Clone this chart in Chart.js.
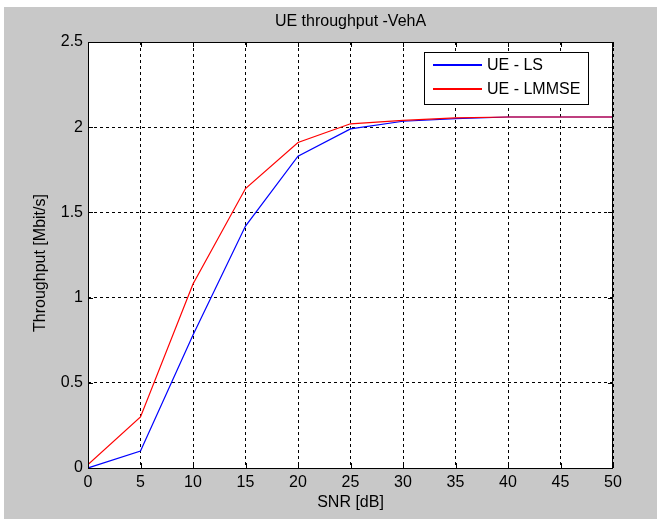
<!DOCTYPE html>
<html>
<head>
<meta charset="utf-8">
<script src="https://cdn.jsdelivr.net/npm/chart.js@4"></script>
<style>
  html, body { margin: 0; padding: 0; background: #fff; }
  #wrap { width: 662px; height: 519px; }
</style>
</head>
<body>
<div id="wrap"><canvas id="chart" width="662" height="519"></canvas></div>
<script>
// ===== DATA =====
const snr = [0, 5, 10, 15, 20, 25, 30, 35, 40, 45, 50];
const ueLS = [0, 0.10, 0.78, 1.42, 1.83, 1.99, 2.035, 2.05, 2.06, 2.06, 2.06];
const ueLMMSE = [0.02, 0.30, 1.08, 1.64, 1.91, 2.02, 2.04, 2.055, 2.06, 2.06, 2.06];
const seriesLabels = ["UE - LS", "UE - LMMSE"];
const seriesColors = ["#0000ff", "#ff0000"];
const titleText = "UE throughput -VehA";
const xTitle = "SNR [dB]";
const yTitle = "Throughput [Mbit/s]";

const FONT = "'Liberation Sans', Arial, sans-serif";

// background, inside ticks, legend and titles
const matlabLook = {
    id: "matlabLook",
    beforeDraw(chart) {
        const c = chart.ctx;
        const a = chart.chartArea;
        c.save();
        c.fillStyle = "#fff";
        c.fillRect(0, 0, chart.width, chart.height);
        c.fillStyle = "#c8c8c8";
        c.fillRect(4, 7, 653, 512);
        c.fillStyle = "#fff";
        c.fillRect(a.left, a.top, a.right - a.left, a.bottom - a.top);
        c.restore();
    },
    afterDraw(chart) {
        const c = chart.ctx;
        const a = chart.chartArea;
        const xs = chart.scales.x, ys = chart.scales.y;
        c.save();
        c.setLineDash([]);
        // frame
        c.strokeStyle = "#000";
        c.lineWidth = 1;
        c.strokeRect(a.left + 0.5, a.top + 0.5, a.right - a.left - 1, a.bottom - a.top);
        // inside ticks
        c.beginPath();
        xs.ticks.forEach(t => {
            const px = Math.round(xs.getPixelForValue(t.value)) + 0.5;
            c.moveTo(px, a.bottom); c.lineTo(px, a.bottom - 5);
            c.moveTo(px, a.top); c.lineTo(px, a.top + 5);
        });
        ys.ticks.forEach(t => {
            const py = Math.round(ys.getPixelForValue(t.value)) + 0.5;
            c.moveTo(a.left, py); c.lineTo(a.left + 5, py);
            c.moveTo(a.right, py); c.lineTo(a.right - 5, py);
        });
        c.stroke();

        // titles
        c.fillStyle = "#000";
        c.font = "16px " + FONT;
        c.textAlign = "center";
        c.textBaseline = "middle";
        c.fillText(titleText, (a.left + a.right) / 2, 22);
        c.fillText(xTitle, (a.left + a.right) / 2, 503);
        c.save();
        c.translate(41, 263);
        c.rotate(-Math.PI / 2);
        c.fillText(yTitle, 0, 0);
        c.restore();

        // legend box
        const lx = 424, ly = 52, lw = 164, lh = 52;
        c.fillStyle = "#fff";
        c.fillRect(lx, ly, lw, lh);
        c.strokeStyle = "#000";
        c.strokeRect(lx + 0.5, ly + 0.5, lw, lh);
        c.font = "16px " + FONT;
        c.textAlign = "left";
        seriesLabels.forEach((label, i) => {
            const yy = ly + 13 + i * 24;
            c.fillStyle = seriesColors[i];
            c.fillRect(lx + 9, yy - 1, 49, 2);
            c.fillStyle = "#000";
            c.fillText(label, lx + 63, yy + 1);
        });
        c.restore();
    }
};

new Chart(document.getElementById("chart"), {
    type: "line",
    data: {
        datasets: [
            {
                label: seriesLabels[0],
                data: snr.map((x, i) => ({ x: x, y: ueLS[i] })),
                borderColor: seriesColors[0],
                borderWidth: 1.2,
                pointRadius: 0,
                tension: 0,
                order: 2
            },
            {
                label: seriesLabels[1],
                data: snr.map((x, i) => ({ x: x, y: ueLMMSE[i] })),
                borderColor: seriesColors[1],
                borderWidth: 1.2,
                pointRadius: 0,
                tension: 0,
                order: 1
            }
        ]
    },
    options: {
        responsive: false,
        animation: false,
        layout: { padding: { left: 0, right: 49, top: 42, bottom: 0 } },
        plugins: {
            legend: { display: false },
            tooltip: { enabled: false }
        },
        scales: {
            x: {
                type: "linear",
                min: 0,
                max: 50,
                afterFit: s => { s.height = 51; },
                ticks: {
                    stepSize: 5,
                    color: "#000",
                    font: { family: FONT, size: 16 },
                    padding: 5,
                    maxRotation: 0
                },
                grid: { color: "#000", lineWidth: 1, drawTicks: false, tickLength: 0 },
                border: { display: false, dash: [3, 3] }
            },
            y: {
                min: 0,
                max: 2.5,
                afterFit: s => { s.width = 88; },
                ticks: {
                    stepSize: 0.5,
                    color: "#000",
                    font: { family: FONT, size: 16 },
                    padding: 5,
                    callback: v => String(v)
                },
                grid: { color: "#000", lineWidth: 1, drawTicks: false, tickLength: 0 },
                border: { display: false, dash: [3, 3] }
            }
        }
    },
    plugins: [matlabLook]
});
</script>
</body>
</html>
